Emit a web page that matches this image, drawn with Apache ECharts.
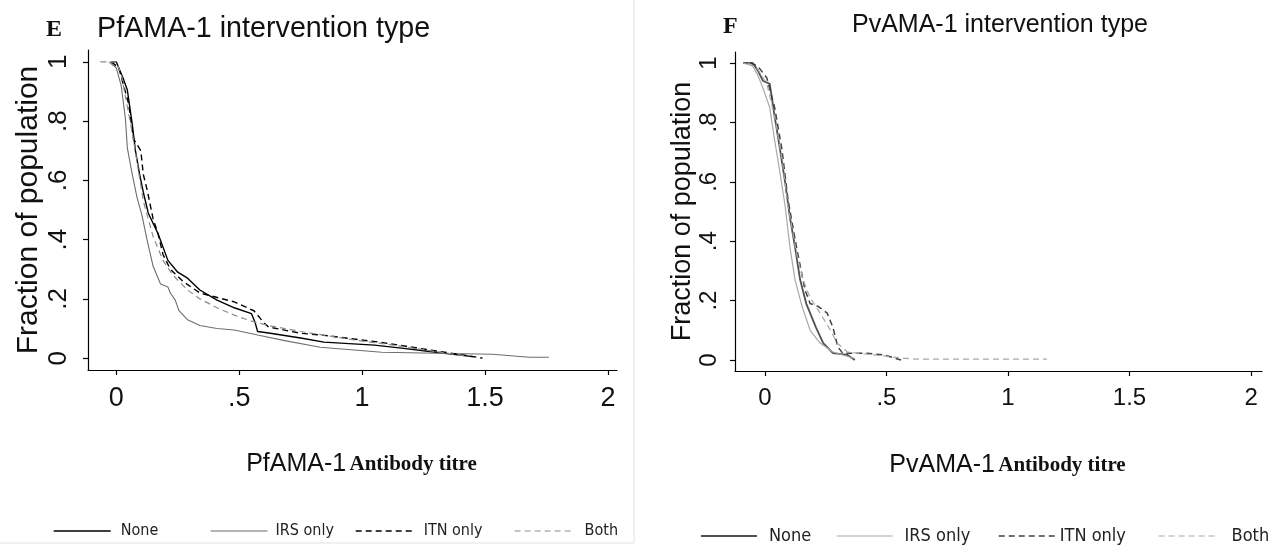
<!DOCTYPE html>
<html>
<head>
<meta charset="utf-8">
<script src="https://cdn.jsdelivr.net/npm/echarts@6/dist/echarts.min.js"></script>
<style>html,body{margin:0;padding:0;background:#fff}#c{width:1270px;height:546px}</style>
</head>
<body>
<div id="c"></div>
<script>
// ---------- data ----------
const seriesNames = ['None', 'IRS only', 'ITN only', 'Both'];
const xTicks = [0, 0.5, 1, 1.5, 2];
const yTicks = [0, 0.2, 0.4, 0.6, 0.8, 1];

// Panel E : PfAMA-1  [titre, fraction]
const pfNone = [[-0.02,1],[0.0,1],[0.01,0.98],[0.03,0.94],[0.045,0.905],[0.065,0.79],[0.078,0.70],[0.095,0.62],[0.11,0.56],[0.13,0.49],[0.17,0.42],[0.21,0.33],[0.25,0.29],[0.29,0.27],[0.34,0.23],[0.41,0.196],[0.48,0.17],[0.55,0.15],[0.565,0.12],[0.575,0.09],[0.62,0.085],[0.75,0.068],[0.845,0.054],[1.05,0.044],[1.16,0.034],[1.3,0.02],[1.45,0.005]];
const pfIRS = [[-0.03,1],[0.0,0.98],[0.02,0.92],[0.037,0.81],[0.045,0.71],[0.065,0.62],[0.085,0.54],[0.105,0.48],[0.125,0.40],[0.15,0.31],[0.18,0.25],[0.21,0.24],[0.22,0.22],[0.24,0.196],[0.255,0.16],[0.29,0.13],[0.34,0.11],[0.41,0.10],[0.48,0.095],[0.575,0.078],[0.68,0.06],[0.83,0.037],[1.08,0.02],[1.53,0.013],[1.68,0.003],[1.76,0.003]];
const pfITN = [[-0.02,1],[0.01,0.98],[0.05,0.86],[0.07,0.74],[0.1,0.70],[0.11,0.62],[0.125,0.57],[0.15,0.47],[0.17,0.42],[0.19,0.35],[0.22,0.30],[0.27,0.26],[0.34,0.22],[0.48,0.19],[0.56,0.16],[0.6,0.12],[0.62,0.105],[0.75,0.084],[0.845,0.077],[1.07,0.054],[1.28,0.027],[1.4,0.012],[1.49,0.0]];
const pfBoth = [[-0.065,1],[0.0,1],[0.02,0.96],[0.065,0.76],[0.085,0.66],[0.11,0.53],[0.15,0.41],[0.19,0.33],[0.23,0.28],[0.29,0.23],[0.34,0.20],[0.41,0.17],[0.48,0.145],[0.55,0.125],[0.62,0.11],[0.75,0.09],[0.98,0.06],[1.12,0.045],[1.3,0.022],[1.42,0.008]];

// Panel F : PvAMA-1
const pvNone = [[-0.09,1],[-0.05,1],[-0.03,0.976],[-0.008,0.94],[0.02,0.93],[0.03,0.875],[0.04,0.82],[0.062,0.71],[0.083,0.60],[0.103,0.48],[0.124,0.38],[0.145,0.27],[0.17,0.19],[0.21,0.11],[0.24,0.057],[0.28,0.023],[0.34,0.017],[0.37,0.0]];
const pvIRS = [[-0.09,1],[-0.05,0.99],[-0.03,0.96],[-0.01,0.92],[0.02,0.85],[0.04,0.74],[0.062,0.63],[0.083,0.52],[0.103,0.38],[0.124,0.27],[0.153,0.18],[0.186,0.10],[0.227,0.057],[0.28,0.027],[0.32,0.017],[0.37,0.005]];
const pvITN = [[-0.06,1],[-0.03,0.99],[0.008,0.95],[0.04,0.85],[0.07,0.71],[0.095,0.54],[0.13,0.38],[0.165,0.236],[0.186,0.19],[0.22,0.18],[0.256,0.158],[0.28,0.11],[0.30,0.044],[0.32,0.023],[0.42,0.023],[0.49,0.017],[0.56,0.0]];
const pvBoth = [[-0.07,1],[-0.03,0.98],[0.008,0.93],[0.04,0.82],[0.07,0.68],[0.095,0.52],[0.13,0.36],[0.157,0.27],[0.186,0.21],[0.227,0.158],[0.27,0.10],[0.297,0.057],[0.34,0.027],[0.45,0.017],[0.56,0.007],[0.62,0.003],[1.16,0.003]];

// ---------- styling ----------
const SANS = "'Liberation Sans', Arial, sans-serif";
const NARROW = "'DejaVu Sans Condensed', 'Liberation Sans', Arial, sans-serif";
const SERIF = "'Liberation Serif', 'Times New Roman', serif";
const fmt = v => String(+v.toFixed(2)).replace(/^0\./, '.');

const styleE = [
  {color:'#000', width:1.4, type:'solid'},
  {color:'#6e6e6e', width:1.1, type:'solid'},
  {color:'#000', width:1.4, type:[6,4]},
  {color:'#8c8c8c', width:1.2, type:[6,4]}
];
const styleF = [
  {color:'#505050', width:1.8, type:'solid'},
  {color:'#a8a8a8', width:1.2, type:'solid'},
  {color:'#404040', width:1.5, type:[6,4]},
  {color:'#a8a8a8', width:1.2, type:[6,4]}
];

function xAxisCfg(gi, min, max, fs, nameTxt, fsName) {
  return {
    type:'value', gridIndex:gi, min:min, max:max,
    axisLine:{show:true, onZero:false, lineStyle:{color:'#000', width:1.2}},
    axisTick:{show:true, length:5, lineStyle:{color:'#000', width:1.2}, customValues:xTicks},
    axisLabel:{customValues:xTicks, formatter:fmt, fontFamily:SANS, fontSize:fs, color:'#111', margin:15},
    splitLine:{show:false},
    name:'{a|' + nameTxt + '} {b|Antibody titre}', nameLocation:'middle', nameGap:82,
    nameTextStyle:{rich:{
      a:{fontFamily:SANS, fontSize:fsName, color:'#111'},
      b:{fontFamily:SERIF, fontWeight:'bold', fontSize:21, color:'#111'}
    }, padding:[0,0,0,18]}
  };
}
function yAxisCfg(gi, min, max, fs, fsName, lm, ng) {
  return {
    type:'value', gridIndex:gi, min:min, max:max,
    axisLine:{show:true, onZero:false, lineStyle:{color:'#000', width:1.2}},
    axisTick:{show:true, length:5, lineStyle:{color:'#000', width:1.2}, customValues:yTicks},
    axisLabel:{customValues:yTicks, formatter:fmt, rotate:90, fontFamily:SANS, fontSize:fs, color:'#111', margin:lm},
    splitLine:{show:false},
    name:'Fraction of population', nameLocation:'middle', nameGap:ng,
    nameTextStyle:{fontFamily:SANS, fontSize:fsName, color:'#111'}
  };
}

const dataE = [pfNone, pfIRS, pfITN, pfBoth];
const dataF = [pvNone, pvIRS, pvITN, pvBoth];
const series = [];
seriesNames.forEach((n, i) => {
  series.push({name:n, type:'line', xAxisIndex:0, yAxisIndex:0, data:dataE[i], symbol:'none', lineStyle:styleE[i], itemStyle:{color:styleE[i].color}, silent:true});
});
seriesNames.forEach((n, i) => {
  series.push({name:n, type:'line', xAxisIndex:1, yAxisIndex:1, data:dataF[i], symbol:'none', lineStyle:styleF[i], itemStyle:{color:styleF[i].color}, silent:true});
});

function legendItem(name, left, top, style, iw, fs, gap) {
  return {
    show:true, left:left, top:top, padding:0, itemWidth:iw, itemHeight:14, selectedMode:false,
    data:[{name:name, lineStyle:style, itemStyle:{color:style.color, opacity:0, borderWidth:0}}],
    textStyle:{fontFamily:NARROW, fontSize:fs, color:'#222', padding:[0,0,0,gap]}
  };
}
const legE = [53, 210, 355, 514];
const legEw = [57, 57, 60, 57];
const legEgap = [5, 3, 3, 8];
const legF = [700, 836, 998, 1158];
const legFw = [56, 56, 56, 56];
const legFgap = [7, 7, 0, 12];
const legends = [];
seriesNames.forEach((n, i) => legends.push(legendItem(n, legE[i], 523, styleE[i], legEw[i], 16, legEgap[i])));
seriesNames.forEach((n, i) => legends.push(legendItem(n, legF[i], 527, styleF[i], legFw[i], 18, legFgap[i])));

const option = {
  animation:false,
  backgroundColor:'#fff',
  title:[
    {text:'E', left:46, top:18, padding:0, textStyle:{fontFamily:SERIF, fontWeight:'bold', fontSize:24, color:'#111'}},
    {text:'PfAMA-1 intervention type', left:97, top:15, padding:0, textStyle:{fontFamily:SANS, fontWeight:'normal', fontSize:28.7, color:'#111'}},
    {text:'F', left:723, top:15, padding:0, textStyle:{fontFamily:SERIF, fontWeight:'bold', fontSize:24, color:'#111'}},
    {text:'PvAMA-1 intervention type', left:852, top:13, padding:0, textStyle:{fontFamily:SANS, fontWeight:'normal', fontSize:25, color:'#111'}}
  ],
  grid:[
    {left:88, top:50, width:529, height:320},
    {left:735, top:52, width:527, height:319}
  ],
  xAxis:[
    xAxisCfg(0, -0.115, 2.037, 27, 'PfAMA-1', 25),
    xAxisCfg(1, -0.123, 2.045, 24, 'PvAMA-1', 25)
  ],
  yAxis:[
    yAxisCfg(0, -0.04, 1.04, 26, 30, 16, 44),
    yAxisCfg(1, -0.037, 1.037, 24, 27, 14, 38)
  ],
  legend:legends,
  graphic:[
    {type:'line', shape:{x1:634, y1:0, x2:634, y2:543}, style:{stroke:'#e2e2e2', lineWidth:1}, silent:true},
    {type:'line', shape:{x1:0, y1:543, x2:634, y2:543}, style:{stroke:'#e2e2e2', lineWidth:1}, silent:true}
  ],
  series:series
};
const chart = echarts.init(document.getElementById('c'), null, {renderer:'canvas'});
chart.setOption(option);
</script>
</body>
</html>
